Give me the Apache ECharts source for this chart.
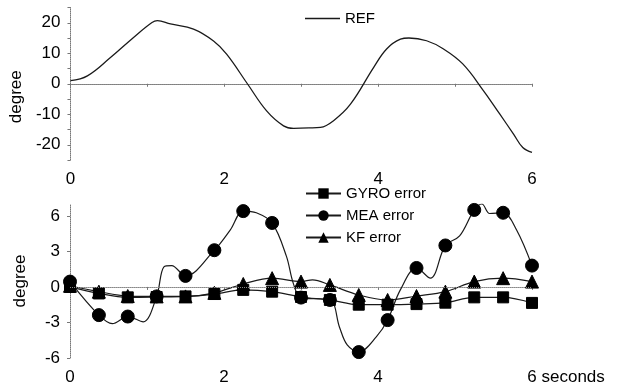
<!DOCTYPE html>
<html>
<head>
<meta charset="utf-8">
<script src="https://cdn.jsdelivr.net/npm/echarts@6/dist/echarts.min.js"></script>
<style>html,body{margin:0;padding:0;background:#fff}#c{width:619px;height:390px}</style>
</head>
<body>
<div id="c"></div>
<script>
// ---- data ----
const refT = [0, 0.22, 0.52, 0.82, 1.06, 1.13, 1.3, 1.6, 1.86, 2.03, 2.3, 2.55, 2.77, 2.9, 3.1, 3.25, 3.42, 3.64, 3.94, 4.11, 4.29, 4.4, 4.63, 4.85, 5.1, 5.37, 5.58, 5.76, 5.88, 6.0];
const refV = [1, 2.6, 8.6, 15.2, 20.1, 20.7, 19.6, 17.9, 14, 9.7, 0, -8.9, -13.8, -14.6, -14.5, -14.3, -12.1, -6.7, 5.3, 11.4, 14.6, 15.0, 14.1, 11.4, 6.5, -2.3, -9.9, -16.5, -20.9, -22.5];

const markT = [0, 0.375, 0.75, 1.125, 1.5, 1.875, 2.25, 2.625, 3, 3.375, 3.75, 4.125, 4.5, 4.875, 5.25, 5.625, 6];
const gyroV = [0, -0.55, -0.88, -0.85, -0.8, -0.6, -0.25, -0.4, -0.85, -1.1, -1.5, -1.5, -1.45, -1.33, -0.88, -0.88, -1.35];
const meaV  = [0.45, -2.38, -2.5, -0.8, 0.93, 3.1, 6.4, 5.4, -0.9, -1.1, -5.5, -2.8, 1.6, 3.5, 6.5, 6.26, 1.8];
const kfV   = [0.1, -0.4, -0.77, -0.8, -0.8, -0.5, 0.25, 0.74, 0.45, 0.17, -0.68, -1.1, -0.77, -0.4, 0.45, 0.74, 0.45];

// curve points between markers (no symbol)
const meaExtraT = [0.55, 0.95, 1.22, 1.32, 2.08, 2.42, 2.81, 2.9, 3.5, 3.6, 3.98, 4.29, 4.68, 5.06, 5.35, 5.45, 5.8];
const meaExtraV = [-3.1, -2.95, 1.7, 1.8, 4.8, 6.26, 2.6, 0.3, -3.4, -4.9, -4.2, -0.25, 0.74, 4.3, 7.0, 6.2, 4.8];
const kfExtraT = [3.15];
const kfExtraV = [0.6];

const xLabels = [0, 2, 4, 6];
const topYLabels = [-20, -10, 0, 10, 20];
const botYLabels = [-6, -3, 0, 3, 6];

// ---- build ----
function build(mT, mV, eT, eV) {
  const pts = mT.map((t, i) => ({ value: [t, mV[i]] }));
  (eT || []).forEach((t, i) => pts.push({ value: [t, eV[i]], symbol: 'none' }));
  pts.sort((a, b) => a.value[0] - b.value[0]);
  return pts;
}
const FONT = 'Liberation Sans, Arial, sans-serif';
const axisLineStyle = { color: '#777', type: 'dotted', width: 1 };
const tickStyle = { color: '#777', width: 1 };

function xAxis(gi, lastSuffix) {
  return {
    type: 'value', gridIndex: gi, min: 0, max: 6,
    axisLine: { show: true, lineStyle: axisLineStyle },
    axisTick: { show: true, length: 3, lineStyle: tickStyle, customValues: [0, 1, 2, 3, 4, 5, 6] },
    axisLabel: { fontFamily: FONT, fontSize: 17, color: '#000', margin: 11, customValues: xLabels,
      align: 'left', padding: [0, 0, 0, -4.7],
      formatter: v => (lastSuffix && v === 6) ? v + lastSuffix : String(v) },
    splitLine: { show: false }
  };
}
function yAxis(gi, min, max, labels, ticks, pad) {
  return {
    type: 'value', gridIndex: gi, min: min, max: max,
    name: 'degree', nameLocation: 'middle', nameGap: 41,
    nameTextStyle: { fontFamily: FONT, fontSize: 17, color: '#000', padding: pad },
    axisLine: { show: true, lineStyle: axisLineStyle },
    axisTick: { show: true, length: 3, lineStyle: tickStyle, customValues: ticks },
    axisLabel: { fontFamily: FONT, fontSize: 17, color: '#000', margin: 10, customValues: labels },
    splitLine: { show: false }
  };
}
const lineCol = '#1a1a1a';
function errSeries(name, sym, size, data, extra) {
  return Object.assign({
    name: name, type: 'line', xAxisIndex: 1, yAxisIndex: 1,
    data: data, smooth: 0.35, symbol: sym, symbolSize: size,
    showSymbol: true, showAllSymbol: true,
    lineStyle: { color: lineCol, width: 1.2 },
    itemStyle: { color: '#000', borderColor: '#000' },
    emphasis: { disabled: true }, animation: false, z: 3
  }, extra || {});
}

const chart = echarts.init(document.getElementById('c'), null, { renderer: 'canvas' });
chart.setOption({
  animation: false,
  backgroundColor: '#fff',
  grid: [
    { left: 70, right: 87, top: 7.5, bottom: 230 },
    { left: 70, right: 87, top: 204, bottom: 32 }
  ],
  legend: [
    { data: [{ name: 'REF', icon: 'path://M0,0 L35,0 L35,1.3 L0,1.3 Z' }], left: 300, top: 6,
      itemWidth: 35, itemHeight: 2, itemGap: 5,
      textStyle: { fontFamily: FONT, fontSize: 15, color: '#000' } },
    { data: ['GYRO error', 'MEA error', 'KF error'], orient: 'vertical', left: 300, top: 181,
      itemWidth: 35, itemHeight: 13, itemGap: 7,
      textStyle: { fontFamily: FONT, fontSize: 15, color: '#000' } }
  ],
  xAxis: [xAxis(0), xAxis(1, ' seconds')],
  yAxis: [
    yAxis(0, -25, 25, topYLabels, [-25, -20, -15, -10, -5, 0, 5, 10, 15, 20, 25], [0, 26, 0, 0]),
    yAxis(1, -6, 7, botYLabels, [-6, -3, 0, 3, 6], [0, 0, 0, 0])
  ],
  series: [
    { name: 'REF', type: 'line', xAxisIndex: 0, yAxisIndex: 0,
      data: refT.map((t, i) => [t, refV[i]]), smooth: 0.4, showSymbol: false, symbol: 'none',
      lineStyle: { color: lineCol, width: 1.3 }, itemStyle: { color: lineCol } },
    errSeries('GYRO error', 'rect', 11, build(markT, gyroV)),
    errSeries('MEA error', 'circle', 13, build(markT, meaV, meaExtraT, meaExtraV), {
      markLine: { silent: true, symbol: 'none', label: { show: false },
        lineStyle: { color: '#888', type: 'dotted', width: 1 }, data: [{ yAxis: 0 }] }
    }),
    errSeries('KF error', 'triangle', 13, build(markT, kfV, kfExtraT, kfExtraV))
  ]
});
</script>
</body>
</html>
